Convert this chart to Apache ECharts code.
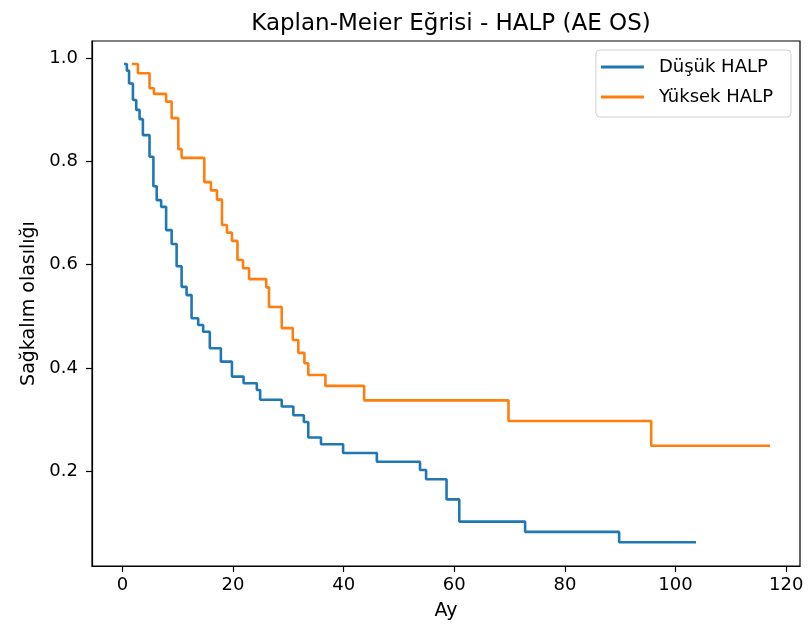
<!DOCTYPE html>
<html>
<head>
<meta charset="utf-8">
<title>Kaplan-Meier Eğrisi - HALP (AE OS)</title>
<script src="https://cdn.jsdelivr.net/npm/echarts@6/dist/echarts.min.js"></script>
<style>
  html, body { margin: 0; padding: 0; background: #fff; }
  #chart { width: 810px; height: 638px; }
</style>
</head>
<body>
<div id="chart"></div>
<script>
// Düşük HALP - olay zamanları (ay) ve sağkalım olasılığı
const lowTimes = [0.3, 0.8, 1.2, 1.9, 2.5, 3.1, 3.7, 4.9, 5.6, 6.2, 7.0, 7.9, 8.9, 9.8, 10.7, 11.6, 12.5, 13.7, 14.6, 15.8, 17.8, 19.8, 21.9, 24.3, 24.9, 28.8, 30.9, 32.8, 33.6, 35.9, 39.9, 46.0, 53.8, 54.9, 58.6, 60.9, 72.8, 89.8, 103.7]
const lowSurv = [0.989, 0.976, 0.951, 0.919, 0.900, 0.882, 0.851, 0.809, 0.752, 0.725, 0.712, 0.667, 0.640, 0.597, 0.557, 0.541, 0.496, 0.483, 0.470, 0.438, 0.412, 0.383, 0.370, 0.357, 0.338, 0.325, 0.308, 0.295, 0.265, 0.252, 0.235, 0.218, 0.202, 0.184, 0.145, 0.102, 0.082, 0.062, 0.062]

// Yüksek HALP
const highTimes = [1.7, 2.8, 4.9, 5.7, 7.9, 8.9, 10.1, 10.7, 14.8, 16.0, 17.1, 18.0, 18.9, 19.8, 20.8, 21.8, 22.9, 26.0, 26.5, 28.8, 30.8, 31.8, 32.9, 33.6, 36.7, 43.7, 69.8, 95.6, 117.1]
const highSurv = [0.989, 0.971, 0.942, 0.931, 0.916, 0.884, 0.824, 0.807, 0.760, 0.744, 0.726, 0.677, 0.662, 0.646, 0.609, 0.593, 0.572, 0.556, 0.518, 0.477, 0.454, 0.429, 0.409, 0.386, 0.365, 0.337, 0.297, 0.249, 0.249]

const xTicks = [0, 20, 40, 60, 80, 100, 120]
const yTicks = [0.2, 0.4, 0.6, 0.8, 1.0]

const seriesNames = ['Düşük HALP', 'Yüksek HALP']
const colors = ['#1f77b4', '#ff7f0e']

function zip(xs, ys) {
  return xs.map((x, i) => [x, ys[i]])
}

const chart = echarts.init(document.getElementById('chart'), null, { renderer: 'canvas' })

const font = 'DejaVu Sans'

const option = {
  animation: false,
  textStyle: { fontFamily: font },
  title: {
    text: 'Kaplan-Meier Eğrisi - HALP (AE OS)',
    left: 446,
    textAlign: 'center',
    top: 8,
    textStyle: { fontFamily: font, fontSize: 23, fontWeight: 'normal', color: '#000' },
  },
  legend: {
    right: 19,
    top: 50,
    orient: 'vertical',
    // plain line markers, like matplotlib
    data: seriesNames.map((name) => ({ name, icon: 'rect' })),
    itemWidth: 43,
    itemHeight: 3,
    itemGap: 8,
    padding: [6, 18, 9, 5],
    borderColor: '#d0d0d0',
    borderWidth: 1,
    borderRadius: 4,
    textStyle: { fontFamily: font, fontSize: 18, lineHeight: 22, color: '#000', padding: [0, 0, 0, 10] },
  },
  grid: {
    left: 92,
    right: 10,
    top: 41,
    bottom: 72,
    show: true,
    borderColor: '#000',
    borderWidth: 1.2,
  },
  xAxis: {
    type: 'value',
    min: -5.5,
    max: 122.5,
    name: 'Ay',
    nameLocation: 'middle',
    nameGap: 36,
    nameTextStyle: { fontFamily: font, fontSize: 19, color: '#000' },
    axisLine: { show: true, onZero: false, lineStyle: { color: '#000', width: 1.2 } },
    axisTick: { show: true, customValues: xTicks, length: 6, lineStyle: { color: '#000', width: 1.2 } },
    axisLabel: { customValues: xTicks, fontFamily: font, fontSize: 18, color: '#000', margin: 10 },
    splitLine: { show: false },
  },
  yAxis: {
    type: 'value',
    min: 0.0159,
    max: 1.0335,
    name: 'Sağkalım olasılığı',
    nameLocation: 'middle',
    nameGap: 52,
    nameTextStyle: { fontFamily: font, fontSize: 19, color: '#000' },
    axisLine: { show: true, onZero: false, lineStyle: { color: '#000', width: 1.2 } },
    axisTick: { show: true, customValues: yTicks, length: 6, lineStyle: { color: '#000', width: 1.2 } },
    axisLabel: {
      customValues: yTicks,
      fontFamily: font,
      fontSize: 18,
      color: '#000',
      margin: 14,
      formatter: (v) => v.toFixed(1),
    },
    splitLine: { show: false },
  },
  series: [
    {
      name: seriesNames[0],
      type: 'line',
      step: 'end',
      symbol: 'none',
      data: zip(lowTimes, lowSurv),
      lineStyle: { color: colors[0], width: 2.6 },
      itemStyle: { color: colors[0] },
    },
    {
      name: seriesNames[1],
      type: 'line',
      step: 'end',
      symbol: 'none',
      data: zip(highTimes, highSurv),
      lineStyle: { color: colors[1], width: 2.6 },
      itemStyle: { color: colors[1] },
    },
  ],
}

chart.setOption(option)
</script>
</body>
</html>
